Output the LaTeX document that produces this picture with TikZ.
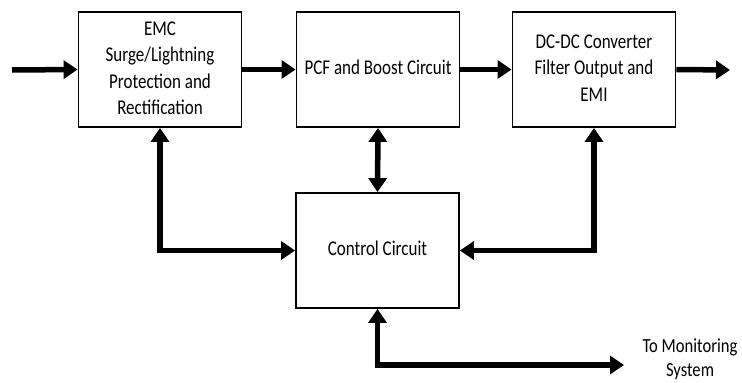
\documentclass[tikz,border=0pt]{standalone}
\usepackage{fontspec}
\usepackage{graphicx}
\setmainfont{Carlito}
\usetikzlibrary{arrows.meta}
% condensed, centred multi-line label
\newcommand{\narrowtext}[2][0.81]{\scalebox{#1}[1]{\begin{tabular}{@{}c@{}}#2\end{tabular}}}
\begin{document}
\begin{tikzpicture}[x=1pt,y=-1pt,
  block/.style={draw,line width=1.8pt,minimum width=163pt,minimum height=115pt,
    inner sep=0pt,font=\fontsize{21}{26.5}\selectfont},
  tip/.tip={Triangle[length=14pt,width=18pt]},
  flow/.style={line width=5.5pt,-tip},
  bidir/.style={line width=5.5pt,tip-tip}]
\useasboundingbox (0,0) rectangle (742,383);
% main signal chain
\node[block] (emc) at (160,69.5) {\narrowtext{EMC\\Surge/Lightning\\Protection and\\Rectification}};
\node[block] (pcf) at (378,69.5) {\narrowtext{PCF and Boost Circuit}};
\node[block] (dcdc) at (594,69.5) {\narrowtext{DC-DC Converter\\Filter Output and\\EMI}};
\node[block] (ctrl) at (377.5,250.5) {\narrowtext{Control Circuit}};
\coordinate (in) at (12,70);
\coordinate (out) at (730,70);
\draw[flow] (in) -- (emc.west);
\draw[flow] (emc.east) -- (pcf.west);
\draw[flow] (pcf.east) -- (dcdc.west);
\draw[flow] (dcdc.east) -- (out);
% control links
\draw[bidir] (emc.south) |- (ctrl.west);
\draw[bidir] (dcdc.south) |- (ctrl.east);
\draw[bidir] (pcf.south) -- (ctrl.north);
% monitoring output
\coordinate (mon) at (624,365);
\draw[bidir] (ctrl.south) |- (mon);
\node[font=\fontsize{20}{24}\selectfont,inner sep=0pt] (montxt) at (690,360) {\narrowtext[0.83]{To Monitoring\\System}};
\end{tikzpicture}
\end{document}
